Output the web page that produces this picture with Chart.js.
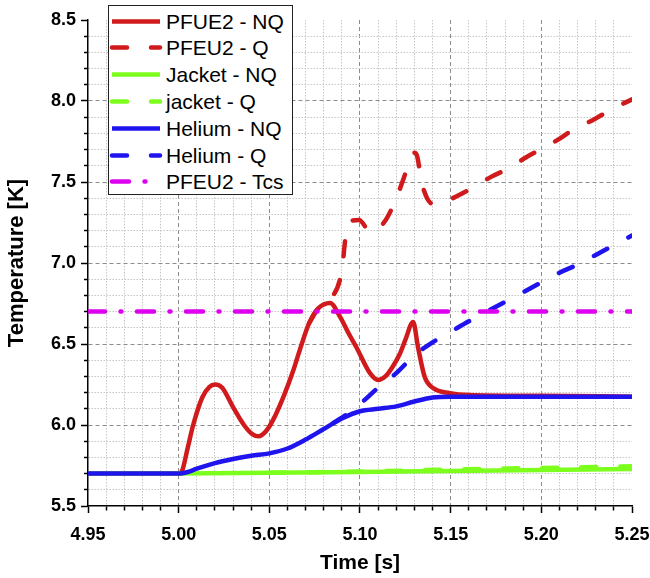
<!DOCTYPE html>
<html>
<head>
<meta charset="utf-8">
<script src="https://cdn.jsdelivr.net/npm/chart.js@4.4.1/dist/chart.umd.min.js"></script>
<style>
  body { margin: 0; background: #fff; }
  #wrap { position: relative; width: 650px; height: 578px; }
  #legend { position: absolute; left: 108px; top: 5px; width: 183px; height: 188px;
            border: 1px solid #222; background: #fff;
            font: 21px "Liberation Sans", Arial, sans-serif; color: #000; }
  .row { position: absolute; left: 0; width: 183px; height: 27px; line-height: 27px; }
  .row svg { position: absolute; left: 0; top: 9px; }
  .row span { position: absolute; left: 57px; white-space: nowrap; }
</style>
</head>
<body>
<div id="wrap">
  <canvas id="chart" width="650" height="578"></canvas>
  <div id="legend"></div>
</div>
<script>
// === axis ticks ===
const xTickLabels = ["4.95", "5.00", "5.05", "5.10", "5.15", "5.20", "5.25"];
const yTickLabels = ["5.5", "6.0", "6.5", "7.0", "7.5", "8.0", "8.5"];
const xMinorStep = 0.01;
const yMinorStep = 0.1;

// === series (time in s, temperature in K) ===
const pfeuNqTime = [4.95, 5.00, 5.002, 5.005, 5.008, 5.013, 5.017, 5.020, 5.024, 5.030, 5.036, 5.041, 5.044,
  5.048, 5.052, 5.058, 5.063, 5.067, 5.072, 5.077, 5.0835, 5.089, 5.094, 5.098, 5.1055, 5.110, 5.114,
  5.118, 5.122, 5.125, 5.1293, 5.132, 5.1357, 5.1403, 5.1496, 5.16, 5.20, 5.25];
const pfeuNqTemp = [5.70, 5.70, 5.72, 5.86, 6.00, 6.17, 6.235, 6.25, 6.23, 6.11, 6.00, 5.94, 5.93,
  5.96, 6.03, 6.18, 6.33, 6.47, 6.63, 6.72, 6.753, 6.667, 6.56, 6.48, 6.32, 6.278, 6.30,
  6.36, 6.44, 6.525, 6.636, 6.48, 6.296, 6.228, 6.197, 6.185, 6.18, 6.175];

const pfeuQTime = [5.072, 5.077, 5.081, 5.0846, 5.089, 5.0905, 5.0917, 5.093, 5.096, 5.0995, 5.104, 5.108,
  5.111, 5.115, 5.12, 5.124, 5.127, 5.130, 5.1315, 5.134, 5.137, 5.141, 5.145, 5.153, 5.163, 5.172,
  5.183, 5.191, 5.201, 5.209, 5.219, 5.228, 5.238, 5.25];
const pfeuQTemp = [6.63, 6.72, 6.755, 6.79, 6.90, 7.00, 7.13, 7.235, 7.262, 7.265, 7.21, 7.19,
  7.22, 7.28, 7.40, 7.52, 7.62, 7.68, 7.66, 7.50, 7.40, 7.36, 7.37, 7.41, 7.47, 7.53,
  7.59, 7.648, 7.71, 7.76, 7.833, 7.88, 7.944, 8.01];

const jacketNqTime = [4.95, 5.00, 5.05, 5.10, 5.15, 5.20, 5.25];
const jacketNqTemp = [5.70, 5.70, 5.705, 5.71, 5.716, 5.722, 5.728];
const jacketQTime = [5.05, 5.10, 5.15, 5.20, 5.25];
const jacketQTemp = [5.705, 5.713, 5.725, 5.735, 5.745];

const heliumNqTime = [4.95, 5.00, 5.005, 5.01, 5.02, 5.03, 5.04, 5.05, 5.06, 5.07, 5.08, 5.09, 5.10,
  5.11, 5.12, 5.13, 5.14, 5.15, 5.20, 5.25];
const heliumNqTemp = [5.70, 5.70, 5.71, 5.73, 5.765, 5.79, 5.81, 5.825, 5.855, 5.91, 5.975, 6.04, 6.085,
  6.10, 6.115, 6.145, 6.17, 6.175, 6.175, 6.175];
const heliumQTime = [5.085, 5.09, 5.10, 5.11, 5.12, 5.13, 5.14, 5.15, 5.16, 5.17, 5.18, 5.19, 5.20,
  5.21, 5.22, 5.23, 5.24, 5.25];
const heliumQTemp = [6.01, 6.045, 6.13, 6.23, 6.32, 6.43, 6.51, 6.575, 6.64, 6.70, 6.76, 6.82, 6.88,
  6.94, 6.99, 7.05, 7.11, 7.17];

const tcsTime = [4.95, 5.25];
const tcsTemp = [6.70, 6.70];

const xMajors = xTickLabels.map(Number);
const yMajors = yTickLabels.map(Number);

const pts = (t, k) => t.map((x, i) => ({ x: x, y: k[i] }));
const near = (a, b) => Math.abs(a - b) < 1e-6;
const isMajor = (v, majors) => majors.some((m) => near(m, v));

function line(label, t, k, color, dash, order) {
  return {
    label: label,
    data: pts(t, k),
    borderColor: color,
    backgroundColor: color,
    borderWidth: 4.5,
    borderDash: dash,
    borderCapStyle: dash.length ? "round" : "butt",
    borderJoinStyle: "round",
    pointRadius: 0,
    cubicInterpolationMode: "monotone",
    fill: false,
    order: order,
  };
}

const RED = "#d01a1c";
const GREEN = "#7dff1e";
const BLUE = "#1f14ee";
const MAGENTA = "#dc00ee";
const DASH = [15, 24];

function minorTicks(scale, step) {
  const ticks = [];
  const n = Math.round((scale.max - scale.min) / step);
  for (let i = 0; i <= n; i++) ticks.push({ value: +(scale.min + i * step).toFixed(4) });
  scale.ticks = ticks;
}

function gridFor(majors, lo, hi, minorTickDash) {
  return {
    grid: {
      color: (c) => {
        if (!c.tick) return "rgba(0,0,0,0)";
        const v = c.tick.value;
        if (near(v, lo) || near(v, hi)) return "rgba(0,0,0,0)";
        return isMajor(v, majors) ? "#8c8c8c" : "#c6c6c6";
      },
      lineWidth: 1,
      tickColor: "#000",
      tickLength: 7,
      tickWidth: 1.5,
      tickBorderDash: (c) => (c.tick && !isMajor(c.tick.value, majors) ? minorTickDash : []),
    },
    border: {
      color: "#000",
      width: 1.5,
      dash: (c) => (!c.tick ? [] : isMajor(c.tick.value, majors) ? [4, 3] : [1.5, 1.5]),
    },
  };
}

Chart.defaults.font.family = "'Liberation Sans', Arial, sans-serif";
Chart.defaults.color = "#000";

const xGrid = gridFor(xMajors, xMajors[0], xMajors[xMajors.length - 1], [4, 100]);
const yGrid = gridFor(yMajors, yMajors[0], yMajors[yMajors.length - 1], [0, 3, 4, 100]);

// legend built from the datasets, drawn as html on top of the canvas
const htmlLegend = {
  id: "htmlLegend",
  afterUpdate(chart) {
    const box = document.getElementById("legend");
    box.innerHTML = "";
    chart.data.datasets.forEach((ds, i) => {
      const row = document.createElement("div");
      row.className = "row";
      row.style.top = (21 + i * 26.8 - 6 - 13.5).toFixed(1) + "px";
      const svg = '<svg width="54" height="9"><line x1="3" y1="4.5" x2="51" y2="4.5" stroke="' + ds.borderColor +
        '" stroke-width="' + ds.borderWidth + '" stroke-linecap="' + ds.borderCapStyle +
        '" stroke-dasharray="' + (ds.borderDash.length ? ds.borderDash.join(" ") : "none") + '"/></svg>';
      row.innerHTML = svg + "<span>" + ds.label + "</span>";
      box.appendChild(row);
    });
  },
};

new Chart(document.getElementById("chart"), {
  type: "line",
  data: {
    datasets: [
      line("PFUE2 - NQ", pfeuNqTime, pfeuNqTemp, RED, [], 5),
      line("PFEU2 - Q", pfeuQTime, pfeuQTemp, RED, DASH, 6),
      line("Jacket - NQ", jacketNqTime, jacketNqTemp, GREEN, [], 3),
      line("jacket - Q", jacketQTime, jacketQTemp, GREEN, DASH, 4),
      line("Helium - NQ", heliumNqTime, heliumNqTemp, BLUE, [], 1),
      line("Helium - Q", heliumQTime, heliumQTemp, BLUE, DASH, 2),
      line("PFEU2 - Tcs", tcsTime, tcsTemp, MAGENTA, [17, 15.5, 1, 15.5], 0),
    ],
  },
  options: {
    responsive: false,
    animation: false,
    layout: { padding: { top: 20, right: 18, left: 0, bottom: 0 } },
    plugins: {
      legend: { display: false },
      tooltip: { enabled: false },
    },
    scales: {
      x: {
        type: "linear",
        min: xMajors[0],
        max: xMajors[xMajors.length - 1],
        afterBuildTicks: (s) => minorTicks(s, xMinorStep),
        afterFit: (s) => { s.height = 72; s.paddingLeft = 0; s.paddingRight = 0; },
        ticks: {
          autoSkip: false,
          maxRotation: 0,
          padding: 11,
          font: { size: 18, weight: "bold" },
          callback: (v) => { const i = xMajors.findIndex((m) => near(m, v)); return i < 0 ? "" : xTickLabels[i]; },
        },
        title: { display: true, text: "Time [s]", font: { size: 21, weight: "bold" }, padding: { top: 0, bottom: 2 } },
        grid: xGrid.grid,
        border: xGrid.border,
      },
      y: {
        min: yMajors[0],
        max: yMajors[yMajors.length - 1],
        afterBuildTicks: (s) => minorTicks(s, yMinorStep),
        afterFit: (s) => { s.width = 88; },
        ticks: {
          autoSkip: false,
          padding: 5,
          font: { size: 18, weight: "bold" },
          callback: (v) => { const i = yMajors.findIndex((m) => near(m, v)); return i < 0 ? "" : yTickLabels[i]; },
        },
        title: { display: true, text: "Temperature [K]", font: { size: 22, weight: "bold" }, padding: { top: 4, bottom: 0 } },
        grid: yGrid.grid,
        border: yGrid.border,
      },
    },
  },
  plugins: [htmlLegend],
});
</script>
</body>
</html>
